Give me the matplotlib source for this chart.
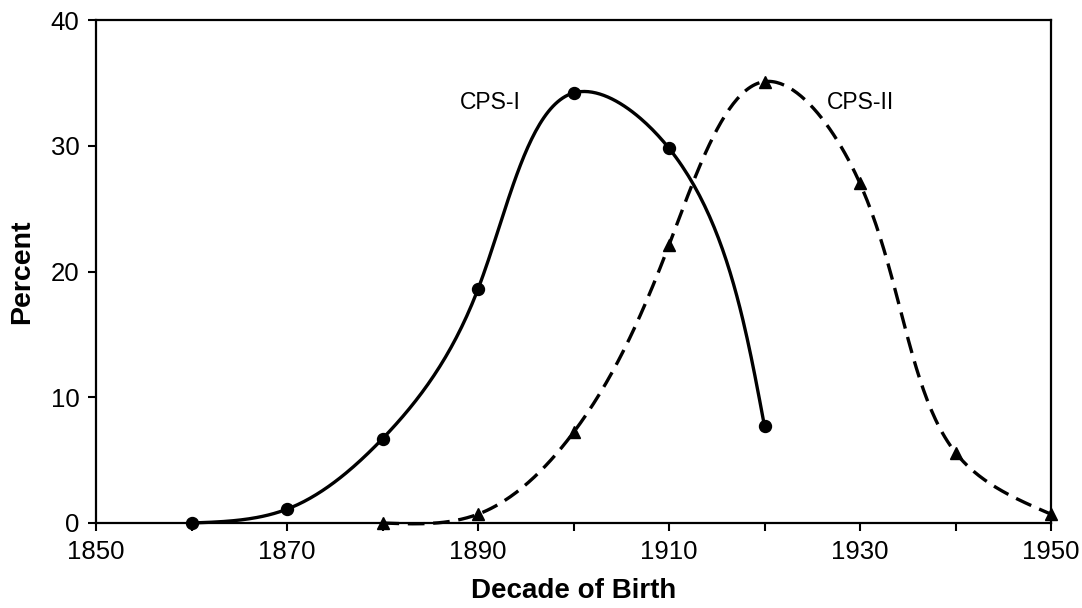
import numpy as np
import matplotlib
matplotlib.use("Agg")
from matplotlib import pyplot as plt
from matplotlib.ticker import FixedLocator, MultipleLocator

plt.rcParams['font.family'] = ['Liberation Sans', 'DejaVu Sans']

decades_1 = [1860, 1870, 1880, 1890, 1900, 1910, 1920]
cps_1 = [0.0, 1.1, 6.7, 18.6, 34.2, 29.8, 7.7]

decades_2 = [1880, 1890, 1900, 1910, 1920, 1930, 1940, 1950]
cps_2 = [0.0, 0.7, 7.2, 22.1, 35.1, 27.0, 5.6, 0.7]

xticks = [1850, 1870, 1890, 1910, 1930, 1950]

# pixels per year / per percent on the page, so the smoothing is done
# in screen space like the original
SX, SY = 9.55, 12.575


def smooth(xs, ys, alpha=0.7, n=50):
    # parametric natural cubic spline through the points
    p = np.column_stack([np.asarray(xs, float) * SX, np.asarray(ys, float) * SY])
    d = np.linalg.norm(np.diff(p, axis=0), axis=1) ** alpha
    t = np.concatenate([[0], np.cumsum(d)])
    N = len(t)
    h = np.diff(t)
    A = np.zeros((N, N))
    B = np.zeros((N, 2))
    A[0, 0] = A[-1, -1] = 1
    for i in range(1, N - 1):
        A[i, i - 1] = h[i - 1]
        A[i, i] = 2 * (h[i - 1] + h[i])
        A[i, i + 1] = h[i]
        B[i] = 6 * ((p[i + 1] - p[i]) / h[i] - (p[i] - p[i - 1]) / h[i - 1])
    M = np.linalg.solve(A, B)
    out = []
    for i in range(N - 1):
        tt = np.linspace(t[i], t[i + 1], n)
        a = ((t[i + 1] - tt) / h[i])[:, None]
        b = ((tt - t[i]) / h[i])[:, None]
        s = a * p[i] + b * p[i + 1] + ((a ** 3 - a) * M[i] + (b ** 3 - b) * M[i + 1]) * h[i] ** 2 / 6
        out.append(s if i == 0 else s[1:])
    out = np.vstack(out)
    return out[:, 0] / SX, out[:, 1] / SY


fig = plt.figure(figsize=(10.82, 6.08), dpi=100)
ax = fig.add_axes([96 / 1082, 1 - 523 / 608, 955 / 1082, 503 / 608])

sx, sy = smooth(decades_1, cps_1)
ax.plot(sx, sy, color='k', lw=2.4, solid_capstyle='round', clip_on=False)
ax.plot(decades_1, cps_1, 'o', color='k', ms=8.6, clip_on=False)

sx, sy = smooth(decades_2, cps_2)
ax.plot(sx, sy, color='k', lw=2.4, dashes=(5, 2.6), clip_on=False)
ax.plot(decades_2, cps_2, '^', color='k', ms=8.6, clip_on=False)

ax.text(1891.3, 33.4, 'CPS-I', fontsize=16.5, ha='center', va='center')
ax.text(1930.0, 33.4, 'CPS-II', fontsize=16.5, ha='center', va='center')

ax.set_xlim(1850, 1950)
ax.set_ylim(0, 40)
ax.xaxis.set_major_locator(FixedLocator(xticks))
ax.xaxis.set_minor_locator(MultipleLocator(10))
ax.yaxis.set_major_locator(MultipleLocator(10))
ax.tick_params(which='both', direction='out', length=6, width=1.5, colors='k')
ax.tick_params(axis='x', labelsize=18.5, pad=6)
ax.tick_params(axis='y', labelsize=18.5, pad=6)
for s in ax.spines.values():
    s.set_linewidth(1.6)

fig.text(573.5 / 1082, 1 - 598 / 608, 'Decade of Birth', fontsize=20,
         fontweight='bold', ha='center', va='baseline')
fig.text(22.5 / 1082, 1 - 271.5 / 608, 'Percent', fontsize=20.5,
         fontweight='bold', ha='center', va='center', rotation=90)

plt.savefig('out.png', dpi=100)
